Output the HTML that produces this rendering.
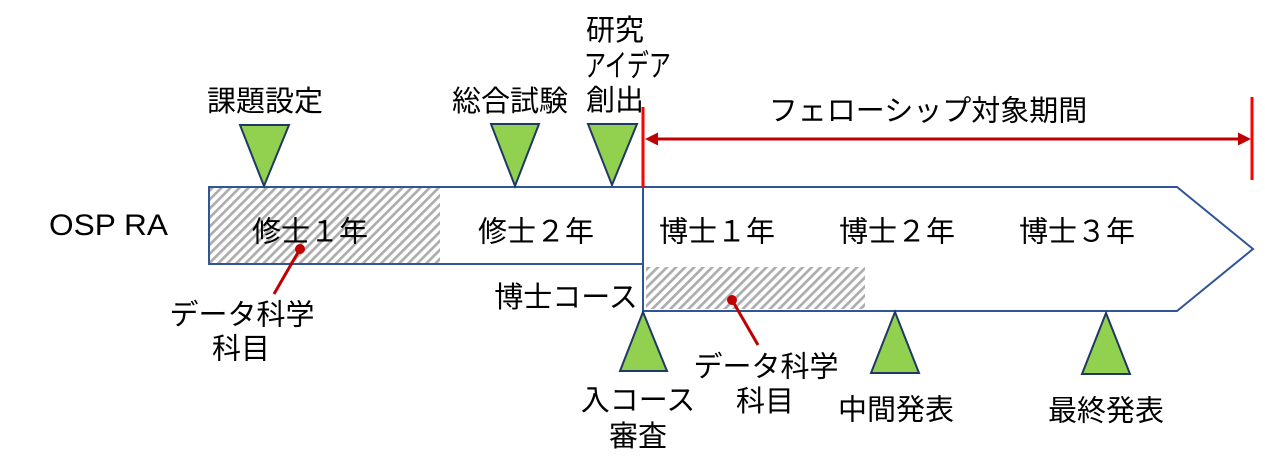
<!DOCTYPE html>
<html>
<head>
<meta charset="utf-8">
<style>
  html,body{margin:0;padding:0;background:#fff;}
  svg{display:block;}
  .jp{font-family:"Liberation Sans","Noto Sans CJK JP",sans-serif;font-size:29px;fill:#000;}
</style>
</head>
<body>
<svg width="1265" height="468" viewBox="0 0 1265 468" xmlns="http://www.w3.org/2000/svg">
  <defs>
    <pattern id="hatch" patternUnits="userSpaceOnUse" width="6.4" height="6.4" patternTransform="rotate(45)">
      <rect x="0" y="0" width="6.4" height="6.4" fill="#ffffff"/>
      <rect x="0" y="0" width="2.7" height="6.4" fill="#ADADAD"/>
    </pattern>
  </defs>

  <!-- Master box -->
  <rect x="210" y="188" width="230" height="75" fill="url(#hatch)"/>
  <rect x="209" y="187" width="434" height="77" fill="none" stroke="#2F5597" stroke-width="2"/>

  <!-- Doctor arrow shape -->
  <polygon points="643,187 1177,187 1253,249 1177,311 643,311" fill="none" stroke="#2F5597" stroke-width="2"/>
  <rect x="646" y="267" width="219" height="42" fill="url(#hatch)"/>

  <!-- Red verticals -->
  <line x1="643" y1="107" x2="643" y2="187" stroke="#FF0000" stroke-width="3"/>
  <line x1="1252" y1="97" x2="1252" y2="180" stroke="#FF0000" stroke-width="3"/>

  <!-- Double arrow -->
  <line x1="655" y1="139" x2="1240" y2="139" stroke="#C00000" stroke-width="3"/>
  <polygon points="645,139 658,132.5 658,145.5" fill="#C00000"/>
  <polygon points="1251,139 1238,132.5 1238,145.5" fill="#C00000"/>

  <!-- Down triangles -->
  <g fill="#92D050" stroke="#1F3864" stroke-width="2" stroke-linejoin="miter">
    <polygon points="240,125 289,125 264,186"/>
    <polygon points="491,124 539,124 515,186"/>
    <polygon points="588,124 637,124 612,185"/>
    <!-- Up triangles -->
    <polygon points="643,312 667,371 620,371"/>
    <polygon points="895,312 919,373 871,373"/>
    <polygon points="1106,313 1130,374 1082,374"/>
  </g>

  <!-- Red pointers -->
  <line x1="300" y1="249" x2="274" y2="294" stroke="#C00000" stroke-width="3"/>
  <circle cx="300" cy="249" r="5" fill="#C00000"/>
  <line x1="732" y1="300" x2="758" y2="345" stroke="#C00000" stroke-width="3"/>
  <circle cx="732" cy="300" r="5" fill="#C00000"/>

  <!-- Texts -->
  <text x="49" y="235" font-family="Liberation Sans, sans-serif" font-size="30" textLength="119" lengthAdjust="spacingAndGlyphs" fill="#000">OSP RA</text>

  <text class="jp" x="265" y="111" text-anchor="middle">課題設定</text>
  <text class="jp" x="510" y="111" text-anchor="middle">総合試験</text>
  <text class="jp" x="615" y="40" text-anchor="middle">研究</text>
  <text class="jp" style="font-size:31px" transform="translate(584,76.5) scale(0.71,1)" x="0" y="0">アイデア</text>
  <text class="jp" x="615" y="110" text-anchor="middle">創出</text>

  <text class="jp" x="928" y="120.5" text-anchor="middle">フェローシップ対象期間</text>

  <text class="jp" x="310" y="241.5" text-anchor="middle">修士１年</text>
  <text class="jp" x="536" y="241.5" text-anchor="middle">修士２年</text>
  <text class="jp" x="717" y="241.5" text-anchor="middle">博士１年</text>
  <text class="jp" x="897" y="241.5" text-anchor="middle">博士２年</text>
  <text class="jp" x="1077" y="241.5" text-anchor="middle">博士３年</text>

  <text class="jp" x="566" y="307" text-anchor="middle">博士コース</text>

  <text class="jp" x="242" y="324.5" text-anchor="middle">データ科学</text>
  <text class="jp" x="241" y="358.5" text-anchor="middle">科目</text>

  <text class="jp" x="638" y="410" text-anchor="middle">入コース</text>
  <text class="jp" x="638" y="446" text-anchor="middle">審査</text>

  <text class="jp" x="766" y="376.5" text-anchor="middle">データ科学</text>
  <text class="jp" x="765" y="411" text-anchor="middle">科目</text>

  <text class="jp" x="896" y="419.5" text-anchor="middle">中間発表</text>
  <text class="jp" x="1106" y="420.5" text-anchor="middle">最終発表</text>
</svg>
</body>
</html>
